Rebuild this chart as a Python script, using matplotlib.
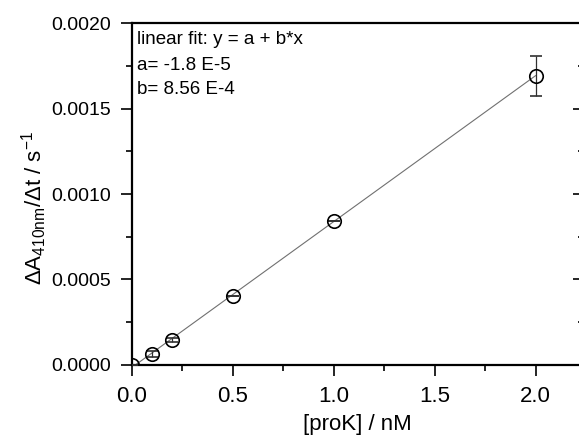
import matplotlib
matplotlib.use("Agg")
import matplotlib.pyplot as plt
from matplotlib.ticker import MultipleLocator, FormatStrFormatter
import numpy as np

plt.rcParams['font.family'] = ['Liberation Sans', 'DejaVu Sans']
plt.rcParams['mathtext.fontset'] = 'custom'
plt.rcParams['mathtext.rm'] = 'Liberation Sans'
plt.rcParams['mathtext.it'] = 'Liberation Sans'

# measured rates vs. proteinase K concentration
conc = [0.0, 0.1, 0.2, 0.5, 1.0, 2.0]
rate = [0.0, 0.0000627, 0.000145, 0.000403, 0.000842, 0.001692]
rate_err = [0.0, 0.00002, 0.00001, 0.0, 0.0, 0.000115]

# linear fit parameters y = a + b*x
fit_a = -1.8e-5
fit_b = 8.56e-4

W, H = 579, 436
fig = plt.figure(figsize=(W / 100, H / 100), dpi=100)
ax = fig.add_axes([131.5 / W, (H - 364.7) / H, (584 - 131.5) / W, (364.7 - 23.5) / H])

xf = np.array([conc[0], conc[-1]])
ax.plot(xf, fit_a + fit_b * xf, color='#707070', lw=0.8, zorder=2)
ax.errorbar(conc, rate, yerr=rate_err, fmt='o', ms=9.7, mfc='none', mec='black',
            mew=1.2, ecolor='#303030', elinewidth=0.9, capsize=4, capthick=0.9,
            zorder=3, clip_on=True)

ax.set_xlim(0, 2.24)
ax.set_ylim(0, 0.0020)
ax.xaxis.set_major_locator(MultipleLocator(0.5))
ax.xaxis.set_minor_locator(MultipleLocator(0.25))
ax.yaxis.set_major_locator(MultipleLocator(0.0005))
ax.yaxis.set_minor_locator(MultipleLocator(0.00025))
ax.yaxis.set_major_formatter(FormatStrFormatter('%.4f'))
ax.xaxis.set_major_formatter(FormatStrFormatter('%.1f'))

for s in ['left', 'bottom', 'top']:
    ax.spines[s].set_linewidth(1.6)
ax.spines['right'].set_visible(False)

ax.tick_params(axis='both', which='major', direction='out', length=8, width=1.2, pad=7)
ax.tick_params(axis='both', which='minor', direction='out', length=4.5, width=1.2)
ax.tick_params(axis='x', labelsize=16)
ax.tick_params(axis='y', labelsize=14)
ax.tick_params(top=False, right=False, which='both')

# inward ticks on the right side
axr = ax.twinx()
axr.set_ylim(ax.get_ylim())
axr.yaxis.set_major_locator(MultipleLocator(0.0005))
axr.yaxis.set_minor_locator(MultipleLocator(0.00025))
axr.tick_params(axis='y', which='major', direction='in', length=8, width=1.2, labelright=False)
axr.tick_params(axis='y', which='minor', direction='in', length=4.5, width=1.2)
for s in axr.spines.values():
    s.set_visible(False)

fit_lines = ['linear fit: y = a + b*x', 'a= -1.8 E-5', 'b= 8.56 E-4']
for label, ypix in zip(fit_lines, [40, 65, 89]):
    fig.text(137 / W, 1 - ypix / H, label, fontsize=13.5, va='center', ha='left')

fig.text(34 / W, 1 - 207.5 / H, r'$\Delta$A$_{410\mathrm{nm}}$/$\Delta$t / s$^{-1}$',
         rotation=90, ha='center', va='center', fontsize=16)
fig.text(357 / W, 1 - 435 / H, '[proK] / nM', ha='center', va='bottom', fontsize=16)

fig.savefig('out.png', dpi=100)
